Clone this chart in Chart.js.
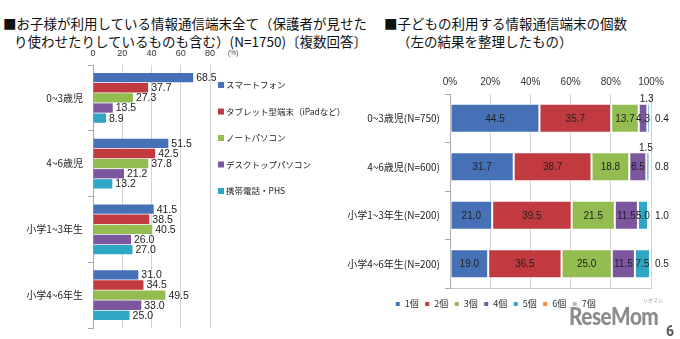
<!DOCTYPE html>
<html lang="ja">
<head>
<meta charset="utf-8">
<script src="https://cdn.jsdelivr.net/npm/chart.js@4.4.1/dist/chart.umd.min.js"></script>
<style>
  body { margin: 0; width: 680px; height: 339px; background: #fff; overflow: hidden; position: relative;
         font-family: 'Noto Sans CJK JP', sans-serif; color: #111; }
  .t { position: absolute; font-size: 13.5px; line-height: 1; white-space: nowrap; }
  .box { position: absolute; }
  #logo { position: absolute; left: 569px; top: 304px; font-family: Lato, Roboto, sans-serif; font-weight: 900;
          font-size: 24px; color: #8c8c8c; letter-spacing: -0.5px; line-height: 1;
          transform: scaleX(0.86); transform-origin: left top; }
  #logo-kana { position: absolute; left: 643px; top: 297px; font-size: 5px; color: #999; line-height: 1; }
  #page { position: absolute; left: 666px; top: 324px; font-family: Roboto, sans-serif; font-weight: 700; font-size: 14px; color: #555; line-height: 1; }
</style>
</head>
<body>
<div class="t" style="left:3px; top:17px;">■お子様が利用している情報通信端末全て（保護者が見せた</div>
<div class="t" style="left:14px; top:35px;">り使わせたりしているものも含む）(N=1750)〔複数回答〕</div>
<div class="t" style="left:384px; top:17px;">■子どもの利用する情報通信端末の個数</div>
<div class="t" style="left:397px; top:35px;">（左の結果を整理したもの）</div>

<div class="box" style="left:0; top:45px; width:340px; height:294px;"><canvas id="left"></canvas></div>
<div class="box" style="left:340px; top:60px; width:340px; height:279px;"><canvas id="right"></canvas></div>

<div id="logo-kana">リセマム</div>
<div id="logo">ReseMom</div>
<div id="page">6</div>

<script>
// 左：利用している情報通信端末（複数回答, %）
const ageLabels = ['0~3歳児', '4~6歳児', '小学1~3年生', '小学4~6年生'];
const deviceNames = ['スマートフォン', 'タブレット型端末（iPadなど）', 'ノートパソコン', 'デスクトップパソコン', '携帯電話・PHS'];
const smartphone = [68.5, 51.5, 41.5, 31.0];
const tablet = [37.7, 42.5, 38.5, 34.5];
const notePc = [27.3, 37.8, 40.5, 49.5];
const desktopPc = [13.5, 21.2, 26.0, 33.0];
const mobilePhone = [8.9, 13.2, 27.0, 25.0];
const leftMax = 80;
const leftStep = 20;

// 右：利用する端末の個数（%）
const countLabels = ['0~3歳児(N=750)', '4~6歳児(N=600)', '小学1~3年生(N=200)', '小学4~6年生(N=200)'];
const countNames = ['1個', '2個', '3個', '4個', '5個', '6個', '7個'];
const count1 = [44.5, 31.7, 21.0, 19.0];
const count2 = [35.7, 38.7, 39.5, 36.5];
const count3 = [13.7, 18.8, 21.5, 25.0];
const count4 = [4.3, 8.5, 11.5, 11.5];
const count5 = [1.3, 1.5, 5.0, 7.5];
const count6 = [0.4, 0.8, 1.0, 0.5];
const count7 = [0, 0, 0, 0];

const colors = ['#4771b6', '#c03a40', '#93bd50', '#7c57a0', '#2ea7c5', '#f08a3c', '#a9badf'];
const numFont = "Arial, 'Liberation Sans', 'Noto Sans CJK JP', sans-serif";

Chart.defaults.font.family = numFont;
Chart.defaults.color = '#222';
Chart.defaults.animation = false;

// 左グラフ：数値ラベルと凡例
const leftDecor = {
    id: 'leftDecor',
    afterDatasetsDraw(chart) {
        const ctx = chart.ctx;
        ctx.save();
        ctx.font = '10.5px ' + numFont;
        ctx.fillStyle = '#222';
        ctx.textAlign = 'left';
        ctx.textBaseline = 'middle';
        chart.data.datasets.forEach((ds, i) => {
            chart.getDatasetMeta(i).data.forEach((bar, j) => {
                ctx.fillText(ds.data[j].toFixed(1), bar.x + 3, bar.y + 0.5);
            });
        });

        // 凡例
        ctx.font = "8.5px 'Noto Sans CJK JP', sans-serif";
        chart.data.datasets.forEach((ds, i) => {
            const y = 40 + i * 26.5;
            ctx.fillStyle = ds.backgroundColor;
            ctx.fillRect(218, y - 3, 6, 6);
            ctx.fillStyle = '#222';
            ctx.fillText(ds.label, 226, y);
        });

        ctx.font = '6.5px ' + numFont;
        ctx.fillStyle = '#444';
        ctx.fillText('(%)', 228, 8);
        ctx.restore();
    }
};

new Chart(document.getElementById('left'), {
    type: 'bar',
    data: {
        labels: ageLabels,
        datasets: [smartphone, tablet, notePc, desktopPc, mobilePhone].map((d, i) => ({
            label: deviceNames[i],
            data: d,
            backgroundColor: colors[i],
            borderWidth: 0,
            categoryPercentage: 0.77,
            barPercentage: 0.92
        }))
    },
    options: {
        indexAxis: 'y',
        responsive: true,
        maintainAspectRatio: false,
        layout: { padding: { left: 0, right: 130, top: 0, bottom: 4 } },
        plugins: { legend: { display: false }, tooltip: { enabled: false } },
        scales: {
            x: {
                position: 'top',
                min: 0,
                max: leftMax,
                ticks: { stepSize: leftStep, font: { size: 9 }, color: '#333', padding: 6 },
                grid: { color: '#d4d4d4', drawTicks: false },
                border: { display: false },
                afterFit: s => { s.height = 20; }
            },
            y: {
                ticks: { font: { size: 10, family: "'Noto Sans CJK JP', sans-serif" }, color: '#222', padding: 5 },
                grid: { drawOnChartArea: false, tickLength: 5, color: '#aaa' },
                border: { color: '#aaa' },
                afterFit: s => { s.width = 93; }
            }
        }
    },
    plugins: [leftDecor]
});

// 右グラフ：数値ラベル
const rightLabels = {
    id: 'rightLabels',
    afterDatasetsDraw(chart) {
        const ctx = chart.ctx;
        ctx.save();
        ctx.font = '10px ' + numFont;
        ctx.fillStyle = '#222';
        chart.data.datasets.forEach((ds, i) => {
            chart.getDatasetMeta(i).data.forEach((bar, j) => {
                const v = ds.data[j];
                if (!v) return;
                const txt = v.toFixed(1);
                if (i === 5) {
                    ctx.textAlign = 'left';
                    ctx.textBaseline = 'middle';
                    ctx.fillText(txt, chart.chartArea.right + 4, bar.y + 0.5);
                } else if (v < 3) {
                    ctx.textAlign = 'center';
                    ctx.textBaseline = 'bottom';
                    ctx.fillText(txt, (bar.x + bar.base) / 2 - 2, bar.y - bar.height / 2 + 1);
                } else {
                    ctx.textAlign = 'center';
                    ctx.textBaseline = 'middle';
                    ctx.fillText(txt, (bar.x + bar.base) / 2, bar.y + 0.5);
                }
            });
        });
        ctx.restore();
    }
};

new Chart(document.getElementById('right'), {
    type: 'bar',
    data: {
        labels: countLabels,
        datasets: [count1, count2, count3, count4, count5, count6, count7].map((d, i) => ({
            label: countNames[i],
            data: d,
            backgroundColor: colors[i],
            borderColor: '#ffffff',
            borderWidth: 1,
            borderSkipped: false,
            categoryPercentage: 0.6,
            barPercentage: 1
        }))
    },
    options: {
        indexAxis: 'y',
        responsive: true,
        maintainAspectRatio: false,
        layout: { padding: { left: 0, right: 29, top: 0, bottom: 20.5 } },
        plugins: {
            tooltip: { enabled: false },
            legend: {
                position: 'bottom',
                labels: {
                    boxWidth: 5,
                    boxHeight: 5,
                    padding: 6,
                    color: '#333',
                    font: { size: 9, family: "'Noto Sans CJK JP', sans-serif" }
                }
            }
        },
        scales: {
            x: {
                stacked: true,
                position: 'top',
                min: 0,
                max: 100,
                ticks: { stepSize: 20, font: { size: 10 }, color: '#333', padding: 6, callback: v => v + '%' },
                grid: { color: '#d4d4d4', drawTicks: false },
                border: { display: false },
                afterFit: s => { s.height = 34; }
            },
            x2: {
                type: 'linear',
                position: 'bottom',
                min: 0,
                max: 100,
                ticks: { display: false },
                grid: { drawOnChartArea: false, drawTicks: false },
                border: { color: '#c8c8c8' },
                afterFit: s => { s.height = 5.5; }
            },
            y: {
                stacked: true,
                ticks: { font: { size: 10, family: "'Noto Sans CJK JP', sans-serif" }, color: '#222', padding: 5 },
                grid: { drawOnChartArea: false, tickLength: 5, color: '#aaa' },
                border: { color: '#aaa' },
                afterFit: s => { s.width = 110; }
            }
        }
    },
    plugins: [rightLabels]
});
</script>
</body>
</html>
